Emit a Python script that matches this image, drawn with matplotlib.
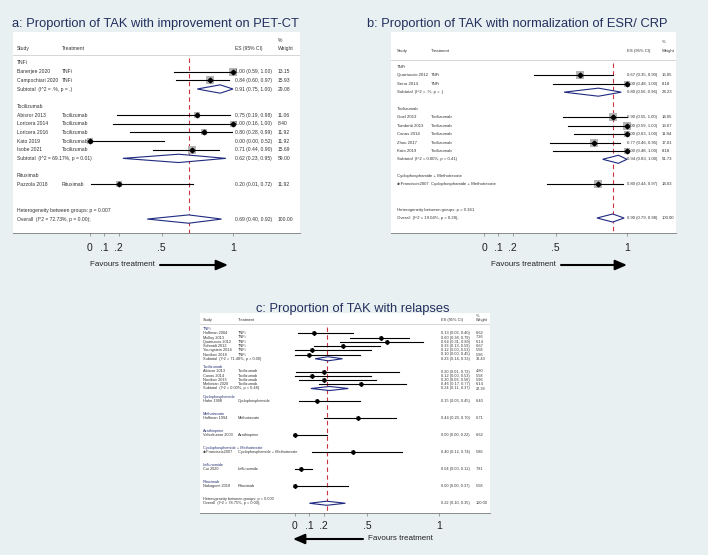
import numpy as np
import matplotlib
matplotlib.use("Agg")
import matplotlib.pyplot as plt
from matplotlib.patches import Polygon

plt.rcParams["font.family"] = ["Liberation Sans", "DejaVu Sans"]

W, H = 708, 555
BG = "#e9f0f1"
NAVY = "#1f2a80"
TITLE_COL = "#22305e"

# %% panel a data: improvement on PET-CT
a_title = "a: Proportion of TAK with improvement on PET-CT"
a_groups = ["TNFi", "Tocilizumab", "Rituximab"]
a_studies = [["Banerjee 2020", "Campochiari 2020"],
             ["Abisror 2013", "Loricera 2014", "Loricera 2016", "Kato 2019", "Isobe 2021"],
             ["Pazzola 2018"]]
a_treat = [["TNFi", "TNFi"],
           ["Tocilizumab"] * 5,
           ["Rituximab"]]
a_es = [[1.00, 0.84], [0.75, 1.00, 0.80, 0.00, 0.71], [0.20]]
a_lo = [[0.59, 0.60], [0.19, 0.16, 0.28, 0.00, 0.44], [0.01]]
a_hi = [[1.00, 0.97], [0.98, 1.00, 0.99, 0.52, 0.90], [0.72]]
a_wt = [[13.15, 15.93], [11.06, 8.40, 11.92, 11.92, 15.69], [11.92]]
a_sub_lab = ["(I^2 = .%, p = .)", "(I^2 = 69.17%, p = 0.01)", None]
a_sub = [(0.91, 0.75, 1.00, 29.08), (0.62, 0.23, 0.95, 59.00), None]
a_het = "Heterogeneity between groups: p = 0.007"
a_all_lab = "Overall  (I^2 = 72.73%, p = 0.00);"
a_all = (0.69, 0.40, 0.92, 100.00)

# %% panel b data: normalization of ESR/CRP
b_title = "b: Proportion of TAK with normalization of ESR/ CRP"
b_groups = ["TNFi", "Tocilizumab", "Cyclophosphamide + Methotrexate"]
b_studies = [["Quartuccio 2012", "Serra 2014"],
             ["Goel 2013", "Tombetti 2013", "Canas 2014", "Zhou 2017", "Kato 2019"],
             ["deFranciscis2007"]]
b_treat = [["TNFi", "TNFi"],
           ["Tocilizumab"] * 5,
           ["Cyclophosphamide + Methotrexate"]]
b_es = [[0.67, 1.00], [0.90, 1.00, 1.00, 0.77, 1.00], [0.80]]
b_lo = [[0.35, 0.48], [0.55, 0.59, 0.63, 0.46, 0.48], [0.44]]
b_hi = [[0.90, 1.00], [1.00, 1.00, 1.00, 0.95, 1.00], [0.97]]
b_wt = [[16.05, 8.18], [14.05, 13.67, 11.84, 17.01, 8.18], [14.03]]
b_sub_lab = ["(I^2 = .%, p = .)", "(I^2 = 0.00%, p = 0.41)", None]
b_sub = [(0.80, 0.56, 0.96, 24.23), (0.94, 0.83, 1.00, 51.73), None]
b_het = "Heterogeneity between groups: p = 0.361"
b_all_lab = "Overall  (I^2 = 19.04%, p = 0.28);"
b_all = (0.90, 0.79, 0.98, 100.00)

# %% panel c data: relapses
c_title = "c: Proportion of TAK with relapses"
c_groups = ["TNFi", "Tocilizumab", "Cyclophosphamide", "Methotrexate", "Azathioprine",
            "Cyclophosphamide + Methotrexate", "Leflunomide", "Rituximab"]
c_studies = [["Hoffman 2004", "Molloy 2013", "Quartuccio 2012", "Schmidt 2012",
              "Youngstein 2014", "Novikov 2018"],
             ["Abisror 2013", "Canas 2014", "Novikov 2015", "Mekinian 2020"],
             ["Hahn 1998"], ["Hoffman 1994"], ["Valsakumar 2003"], ["deFranciscis2007"],
             ["Cui 2020"], ["Nakagomi 2018"]]
c_treat = [["TNFi"] * 6, ["Tocilizumab"] * 4, ["Cyclophosphamide"], ["Methotrexate"],
           ["Azathioprine"], ["Cyclophosphamide + Methotrexate"], ["Leflunomide"],
           ["Rituximab"]]
c_es = [[0.13, 0.60, 0.64, 0.33, 0.12, 0.10], [0.20, 0.12, 0.20, 0.46],
        [0.15], [0.44], [0.00], [0.40], [0.04], [0.00]]
c_lo = [[0.02, 0.38, 0.31, 0.13, 0.00, 0.00], [0.01, 0.00, 0.03, 0.17],
        [0.03], [0.20], [0.00], [0.12], [0.00], [0.00]]
c_hi = [[0.40, 0.79, 0.89, 0.59, 0.53, 0.45], [0.72, 0.53, 0.56, 0.77],
        [0.45], [0.70], [0.22], [0.74], [0.12], [0.37]]
c_wt = [[6.62, 7.26, 6.14, 6.67, 5.58, 5.96], [4.80, 5.58, 5.96, 6.14],
        [6.40], [6.71], [6.62], [5.86], [7.81], [5.58]]
c_sub_lab = ["(I^2 = 71.48%, p = 0.00)", "(I^2 = 0.00%, p = 0.48)"] + [None] * 6
c_sub = [(0.23, 0.14, 0.33, 38.43), (0.24, 0.11, 0.37, 22.39)] + [None] * 6
c_het = "Heterogeneity between groups: p = 0.000"
c_all_lab = "Overall  (I^2 = 78.75%, p = 0.00);"
c_all = (0.22, 0.10, 0.35, 100.00)

ticks = [0, 0.1, 0.2, 0.5, 1]
tick_labels = ["0", ".1", ".2", ".5", "1"]

fig = plt.figure(figsize=(W / 100, H / 100), dpi=100)
fig.patch.set_facecolor(BG)


def forest(lay, groups, studies, treat, es, lo, hi, wt, sub_lab, sub, het, all_lab, allv):
    x0, y0, x1, y1 = lay["box"]
    ax = fig.add_axes([x0 / W, 1 - y1 / H, (x1 - x0) / W, (y1 - y0) / H])
    ax.set_facecolor("white")
    px = lambda p: (p - lay["zero"]) / lay["span"]
    ry = lambda p: (p - lay["row0"]) / lay["dy"]
    ax.set_xlim(px(x0), px(x1))
    ax.set_ylim(ry(y1), ry(y0))
    for s in ["top", "left", "right"]:
        ax.spines[s].set_visible(False)
    ax.spines["bottom"].set_color("#8a8a8a")
    ax.spines["bottom"].set_linewidth(0.7)
    ax.set_yticks([])
    ax.set_xticks(ticks)
    ax.set_xticklabels(tick_labels)
    ax.tick_params(axis="x", length=2.5, width=0.6, color="#8a8a8a",
                   labelsize=lay["tfs"], pad=lay["pad"], labelcolor="#222222")

    fs = lay["fs"]
    cn, ct, ce, cw = [px(v) for v in lay["cols"]]
    tk = dict(fontsize=fs, va="center", color="#333333")
    # header
    ax.text(cn, ry(lay["head"]), "Study", **tk)
    ax.text(ct, ry(lay["head"]), "Treatment", **tk)
    ax.text(ce, ry(lay["head"]), "ES (95% CI)", **tk)
    ax.text(cw, ry(lay["pct"]), "%", **tk)
    ax.text(cw, ry(lay["head"]), "Weight", **tk)
    ax.axhline(ry(lay["line"]), color="#cfcfcf", lw=0.6)

    k = lay["box_k"]
    half = 0.48

    def diamond(r, e, l, h):
        ax.add_patch(Polygon([(l, r), (e, r - half), (h, r), (e, r + half)],
                             closed=True, facecolor="white", edgecolor=NAVY,
                             lw=0.8, zorder=3))

    r = 0
    for g, name in enumerate(groups):
        ax.text(cn, r, name, fontsize=fs, va="center", color=lay["gcol"])
        r += 1
        for i, st in enumerate(studies[g]):
            ax.text(cn, r, st, **tk)
            ax.text(ct, r, treat[g][i], **tk)
            ax.plot([lo[g][i], hi[g][i]], [r, r], color="black", lw=0.8, zorder=2,
                    clip_on=False)
            side = k * np.sqrt(wt[g][i]) * 0.72
            ax.scatter([es[g][i]], [r], marker="s", s=side ** 2, color="#b5b5b5",
                       zorder=1, linewidths=0, clip_on=False)
            ax.plot([es[g][i]], [r], marker="D", ms=lay["ms"], color="black",
                    zorder=3, clip_on=False)
            ax.text(ce, r, f"{es[g][i]:.2f} ({lo[g][i]:.2f}, {hi[g][i]:.2f})", **tk)
            ax.text(cw, r, f"{wt[g][i]:.2f}", **tk)
            r += 1
        if sub[g] is not None:
            e, l, h, w = sub[g]
            ax.text(cn, r, "Subtotal  " + sub_lab[g], **tk)
            diamond(r, e, l, h)
            ax.text(ce, r, f"{e:.2f} ({l:.2f}, {h:.2f})", **tk)
            ax.text(cw, r, f"{w:.2f}", **tk)
        r += 2
    ax.text(cn, r, het, **tk)
    r += 1
    e, l, h, w = allv
    ax.text(cn, r, all_lab, **tk)
    diamond(r, e, l, h)
    ax.text(ce, r, f"{e:.2f} ({l:.2f}, {h:.2f})", **tk)
    ax.text(cw, r, f"{w:.2f}", **tk)

    # overall reference line
    ax.plot([e, e], [ry(lay["line"] + 3), ry(y1)], color="#cc3344", lw=0.8,
            dashes=(4, 3), zorder=0)

    # favours arrow
    ya = ry(lay["arrow"][0])
    ax.text(px(lay["arrow"][3]), ya, "Favours treatment", fontsize=5.8,
            va="center", ha="left", color="#222222")
    ax.annotate("", xy=(px(lay["arrow"][2]), ya), xytext=(px(lay["arrow"][1]), ya),
                arrowprops=dict(arrowstyle="-|>,head_length=0.7,head_width=0.3",
                                lw=1.5, color="black", shrinkA=0, shrinkB=0),
                annotation_clip=False)
    return ax


lay_a = dict(box=(13, 32, 300, 233), zero=90, span=143, row0=63, dy=8.67,
             cols=(17, 62, 235, 278), head=49, pct=41, line=55, fs=3.6, tfs=7.5,
             pad=4.5, box_k=2.0, ms=2.4, gcol="#333333", arrow=(265, 160, 228, 90))
lay_b = dict(box=(391, 32, 676, 233), zero=484, span=143, row0=67, dy=8.39,
             cols=(397, 431, 627, 662), head=51, pct=42, line=60, fs=3.1, tfs=7.5,
             pad=4.5, box_k=2.0, ms=2.4, gcol="#333333", arrow=(265, 561, 627, 491))
lay_c = dict(box=(200, 313, 490, 513), zero=295, span=144, row0=329, dy=4.25,
             cols=(203, 238, 441, 476), head=320, pct=316, line=324, fs=2.8, tfs=7.5,
             pad=3.5, box_k=1.7, ms=2.0, gcol="#2a3575", arrow=(539, 363, 293, 368))

forest(lay_a, a_groups, a_studies, a_treat, a_es, a_lo, a_hi, a_wt,
       a_sub_lab, a_sub, a_het, a_all_lab, a_all)
forest(lay_b, b_groups, b_studies, b_treat, b_es, b_lo, b_hi, b_wt,
       b_sub_lab, b_sub, b_het, b_all_lab, b_all)
forest(lay_c, c_groups, c_studies, c_treat, c_es, c_lo, c_hi, c_wt,
       c_sub_lab, c_sub, c_het, c_all_lab, c_all)

fig.text(12 / W, 1 - 27 / H, a_title, fontsize=9.3, color=TITLE_COL, va="baseline")
fig.text(367 / W, 1 - 27 / H, b_title, fontsize=9.3, color=TITLE_COL, va="baseline")
fig.text(353 / W, 1 - 312 / H, c_title, fontsize=9.3, color=TITLE_COL,
         va="baseline", ha="center")

fig.savefig("out.png", dpi=100, facecolor=BG)
